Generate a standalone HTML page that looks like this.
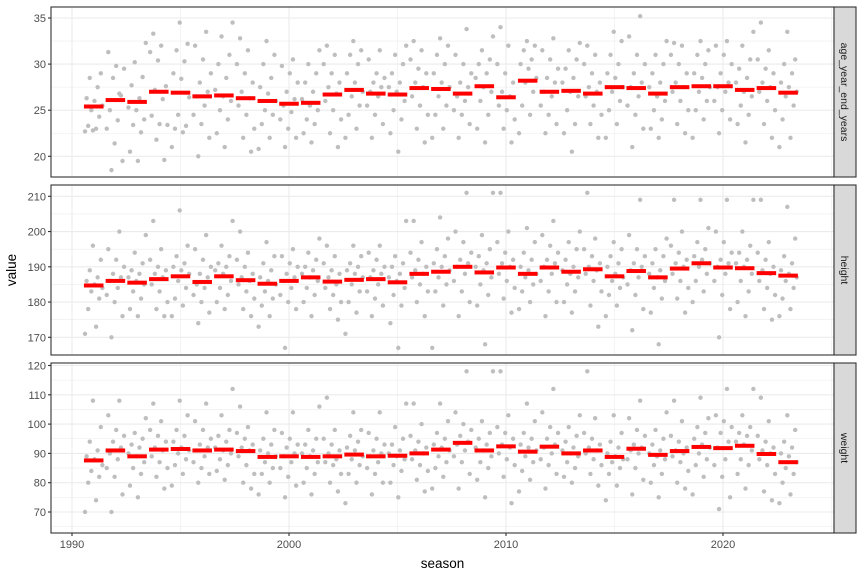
<!DOCTYPE html>
<html><head><meta charset="utf-8"><style>
body{margin:0;background:#fff}
svg text{font-family:"Liberation Sans",sans-serif}
</style></head><body>
<svg id="c" width="864" height="576" xmlns="http://www.w3.org/2000/svg"></svg>
<script>
const seasons=[1991,1992,1993,1994,1995,1996,1997,1998,1999,2000,2001,2002,2003,2004,2005,2006,2007,2008,2009,2010,2011,2012,2013,2014,2015,2016,2017,2018,2019,2020,2021,2022,2023];
const ageMeans=[25.4,26.1,25.9,27.0,26.9,26.5,26.6,26.3,26.0,25.7,25.8,26.7,27.2,26.8,26.7,27.4,27.3,26.8,27.6,26.4,28.2,27.0,27.1,26.8,27.5,27.4,26.8,27.5,27.6,27.6,27.2,27.4,26.9];
const heightMeans=[184.7,186,185.5,186.5,187.3,185.7,187.3,186.2,185.2,186,187,185.8,186.3,186.5,185.6,188,188.6,190,188.4,189.8,188,189.8,188.6,189.3,187.3,188.8,187,189.5,191,189.8,189.6,188.2,187.5];
const weightMeans=[87.6,91,89,91.3,91.5,91,91.3,90.8,88.8,89,88.8,89,89.6,89,89.2,90,91.3,93.6,91,92.4,90.6,92.3,90,91,88.8,91.6,89.5,90.8,92.2,91.8,92.6,89.8,87];
const agePoints=[
[22.7,23,23.3,24.3,25,25.5,26,26.3,27.5,28.5,29,22.8],[18.5,19.5,21.4,23,23.9,25,26.6,28.5,29.5,29.8,31.3,26.8],[19.5,20.5,22.6,23.4,24,25,25.3,26.3,27.7,28.6,30.2,32.3],[19.6,21.8,23.4,23.5,24.4,26.2,27.2,27.6,30.4,31.3,32,33.3],[21,22.6,23,23.3,24.5,26.4,28.4,29,30.3,31.5,32.2,34.5],[20,22,23.5,24.5,25.5,26.5,27,28,29,30.5,32,33.5],[21,22.5,24,25,26,26.5,27.2,28.5,30,31,33,34.5],[20.5,22,23,24.5,25.5,26.3,27,28,29,30,31.5,32.8],[20.8,22,23.5,24.5,25,26,26.8,27.5,28.5,30,31,32.5],[21,22,23,24,24.8,25.5,26.2,27,28,29,29.8,30.5],[21.5,22.5,23.5,24,25,25.5,26.2,27,28,29,30,31.5],[21,22.5,24,25,26,26.8,27.5,28,29,30,31,32],[22,23,24.5,25.5,26.5,27,28,29,30,31,31.5,32.5],[22,23.5,24.5,25.5,26.5,27,27.5,28,28.5,29,30.5,31.5],[20.5,22.5,24,25,26,27,27.5,28,29,30,31,32],[21.5,23,24.5,25.5,26.5,27.5,28,29,29.5,30.5,31.5,32.5],[22,23,24.5,25.5,26.5,27.5,28,29,30,31,32,32.8],[22,23.5,24.5,25,26,26.5,27.5,28,29,30,31,33.8],[21.5,23,24.5,26,27,27.5,28.5,29,30,30.5,31.5,33],[21.5,23,24,25,25.5,26.5,27,28,29,30,32,34],[22.5,24.5,25.5,27,28,28.5,29.5,30,30.5,31.5,32,32.5],[22.5,23.5,24.5,25.5,26.5,27,28,28.5,29.5,30.5,31.5,32.8],[20.5,22.5,23.5,25,26.5,27,28,28.5,29.5,30.5,31.5,32.3],[22,23.5,24.5,25.5,26.5,27,27.5,28,29,30,31,32],[22,23.5,25,26,27,27.5,28.5,29,30,31,32.5,33.5],[21,23,24.5,25.5,26.5,27.5,28,29,30,31,33,35.2],[22,23,24,25,26,26.5,27.5,28,29,30,31,32.5],[22.5,23.5,25,26,27,27.5,28,29,30,31,32,32.3],[22,24,25,26,27,27.5,28.5,29,30,31,31.5,32.5],[22.5,24,25,26,27,27.5,28,29,30,31,32,32.5],[21.5,23.5,24.5,25.5,26.5,27,28,28.5,29.5,30.5,32,33.5],[22,23.5,25,26,27,27.5,28,29,29.5,30.5,31.5,34.5],[21,22,24,25.5,26.5,27,27.5,28,29,30,30.5,33.5]];
const heightPoints=[
[171,173,178,181,183,184,185,186,187,189,192,196],[170,176,180,182,184,186,187,188,190,192,195,200],[176,178,181,183,185,186,187,188,189,191,194,199],[176,178,180,183,185,187,188,189,190,192,195,203],[176,179,181,184,186,188,189,190,191,193,196,206],[174,177,180,182,184,185,187,188,190,192,195,199],[178,180,182,184,186,188,189,190,191,193,196,203],[176,178,181,183,185,186,187,188,190,192,194,200],[173,176,179,181,183,185,186,187,189,191,193,197],[167,178,180,182,184,186,187,188,190,191,193,195],[176,180,182,184,186,187,188,189,190,192,194,198],[175,178,180,182,184,185,187,188,189,191,193,196],[171,177,180,183,185,187,188,189,190,191,193,196],[176,179,181,183,185,187,188,189,190,192,194,196],[167,174,179,182,184,186,187,188,190,191,193,203],[176,180,183,185,187,188,189,190,192,194,197,203],[167,179,183,185,187,189,190,191,193,195,198,204],[176,180,183,186,188,190,191,192,194,197,200,211],[168,179,182,185,187,189,190,191,193,195,199,211],[177,181,184,186,188,190,191,192,194,197,200,211],[178,180,183,185,187,188,189,190,192,194,197,201],[176,180,183,186,188,190,191,192,194,196,199,203],[177,180,183,185,187,188,189,190,192,195,197,200],[173,179,183,186,188,189,190,191,193,195,198,211],[176,179,182,184,186,187,188,190,191,193,195,197],[172,178,182,185,187,189,190,191,193,195,199,209],[168,177,181,184,186,187,188,189,191,193,195,198],[177,181,184,186,188,190,191,192,194,196,200,209],[180,183,186,188,190,191,192,193,195,197,201,209],[170,178,182,186,188,190,191,192,194,197,200,209],[176,180,183,186,188,190,191,192,194,196,200,209],[175,178,182,184,186,188,189,190,192,194,197,209],[176,178,181,184,186,187,188,189,191,193,198,207]];
const weightPoints=[
[70,74,80,82,84,86,88,89,91,94,99,108],[70,76,82,85,88,90,92,94,96,98,103,108],[75,79,83,85,87,89,90,92,93,95,97,102],[78,82,85,87,89,91,92,94,96,98,101,107],[79,83,86,88,90,91,92,94,96,98,103,108],[80,83,85,87,89,91,92,93,95,98,101,107],[81,84,86,88,90,91,92,94,96,98,103,112],[78,80,83,86,89,91,92,93,95,97,99,106],[76,80,83,85,87,89,90,91,93,95,98,104],[75,79,82,85,87,89,90,92,93,95,97,104],[76,80,83,85,87,89,90,91,93,95,98,106],[77,80,83,86,87,88,90,91,93,95,98,109],[73,80,83,86,88,89,91,92,94,96,98,104],[76,80,83,85,87,89,90,91,93,95,97,104],[75,80,84,86,88,89,90,91,93,95,99,107],[77,81,84,86,88,90,91,92,94,96,100,107],[78,82,85,87,89,91,92,93,95,97,101,107],[78,83,87,89,91,93,94,96,98,100,104,118],[75,81,85,87,89,91,92,93,95,97,101,118],[73,82,86,88,90,92,93,95,97,99,103,118],[77,81,84,87,89,91,92,93,95,97,101,107],[78,83,86,88,90,92,93,95,97,99,104,112],[80,82,85,87,89,90,91,92,94,96,99,103],[79,83,86,88,90,91,92,93,95,97,102,118],[74,79,83,85,87,88,89,90,92,94,97,103],[76,81,85,88,90,91,92,93,96,98,102,108],[75,80,83,86,88,89,90,91,93,95,98,104],[78,80,84,87,89,90,91,92,94,96,101,108],[76,82,86,88,90,92,93,95,97,99,102,109],[71,75,82,86,88,92,94,97,99,101,103,112],[78,83,86,88,91,93,94,96,97,99,103,112],[74,77,83,86,88,90,91,92,94,96,101,109],[73,76,80,83,85,87,89,90,92,94,98,103]];
const xTicks=[1990,2000,2010,2020];
const ageTicks=[20,25,30,35];
const heightTicks=[170,180,190,200,210];
const weightTicks=[70,80,90,100,110,120];

const NS="http://www.w3.org/2000/svg";
const svg=document.getElementById('c');
function mk(t,a,p){const e=document.createElementNS(NS,t);for(const k in a)e.setAttribute(k,a[k]);(p||svg).appendChild(e);return e;}
const L=51,R=834;
const x=v=>72+(v-1990)*(723-72)/30;
function lin(v0,p0,v1,p1){return v=>p0+(v-v0)*(p1-p0)/(v1-v0);}
const panels=[
 {name:'age_year_end_years',top:7,bot:177,y:lin(35,18,20,156.3),ticks:ageTicks,step:5,pts:agePoints,means:ageMeans},
 {name:'height',top:185,bot:355,y:lin(210,196.3,170,337.3),ticks:heightTicks,step:10,pts:heightPoints,means:heightMeans},
 {name:'weight',top:363,bot:533,y:lin(120,365.5,70,512),ticks:weightTicks,step:10,pts:weightPoints,means:weightMeans}];
panels.forEach((P,pi)=>{
 const g=mk('g',{});
 
 
 mk('rect',{x:L,y:P.top,width:R-L,height:P.bot-P.top,fill:'#fff'},g);
 for(let i=0;i<P.ticks.length+1;i++){const v=P.ticks[0]+(i-0.5)*P.step;const yy=P.y(v);if(yy>P.top&&yy<P.bot)mk('line',{x1:L,x2:R,y1:yy,y2:yy,stroke:'#ebebeb','stroke-width':0.55},g);}
 [1985,1995,2005,2015,2025].forEach(v=>{const xx=x(v);if(xx>L&&xx<R)mk('line',{x1:xx,x2:xx,y1:P.top,y2:P.bot,stroke:'#ebebeb','stroke-width':0.55},g);});
 P.ticks.forEach(v=>{const yy=P.y(v);mk('line',{x1:L,x2:R,y1:yy,y2:yy,stroke:'#ebebeb','stroke-width':1.1},g);
  mk('line',{x1:L-3,x2:L,y1:yy,y2:yy,stroke:'#333','stroke-width':1.1},g);
  const t=mk('text',{x:L-5,y:yy+4,'text-anchor':'end','font-size':11,fill:'#4d4d4d'},g);t.textContent=v;
  });
 xTicks.forEach(v=>{const xx=x(v);mk('line',{x1:xx,x2:xx,y1:P.top,y2:P.bot,stroke:'#ebebeb','stroke-width':1.1},g);});
 seasons.forEach((s,si)=>{P.pts[si].forEach((v,i)=>{const off=(((i*7+si*3)%12)/11-0.5)*0.8;
  const c=mk('circle',{cx:x(s+off),cy:P.y(v),r:2.2,fill:'#bebebe'},g);
  });});
 seasons.forEach((s,si)=>{const r=mk('rect',{x:x(s-0.45),y:P.y(P.means[si])-2,width:x(s+0.45)-x(s-0.45),height:4,fill:'#ff0000'},g);
  });
 mk('rect',{x:L,y:P.top,width:R-L,height:P.bot-P.top,fill:'none',stroke:'#333','stroke-width':1.1},g);
 const st=mk('rect',{x:R,y:P.top,width:22,height:P.bot-P.top,fill:'#d9d9d9',stroke:'#333','stroke-width':1.1},g);
 
 const cy=(P.top+P.bot)/2;
 const tt=mk('text',{x:R+11,y:cy,'text-anchor':'middle','font-size':10.5,fill:'#1a1a1a',transform:`rotate(90 ${R+11} ${cy}) translate(0 4)`},g);
 tt.textContent=P.name;
});
xTicks.forEach(v=>{const xx=x(v);mk('line',{x1:xx,x2:xx,y1:533,y2:536,stroke:'#333','stroke-width':1.1});
 const t=mk('text',{x:xx,y:548,'text-anchor':'middle','font-size':11,fill:'#4d4d4d'});t.textContent=v;
 });
const xt=mk('text',{x:(L+R)/2,y:568,'text-anchor':'middle','font-size':13.5,fill:'#000'});xt.textContent='season';

const yt=mk('text',{x:16,y:270,'text-anchor':'middle','font-size':13.5,fill:'#000',transform:'rotate(-90 16 270)'});yt.textContent='value';

</script>
</body></html>
